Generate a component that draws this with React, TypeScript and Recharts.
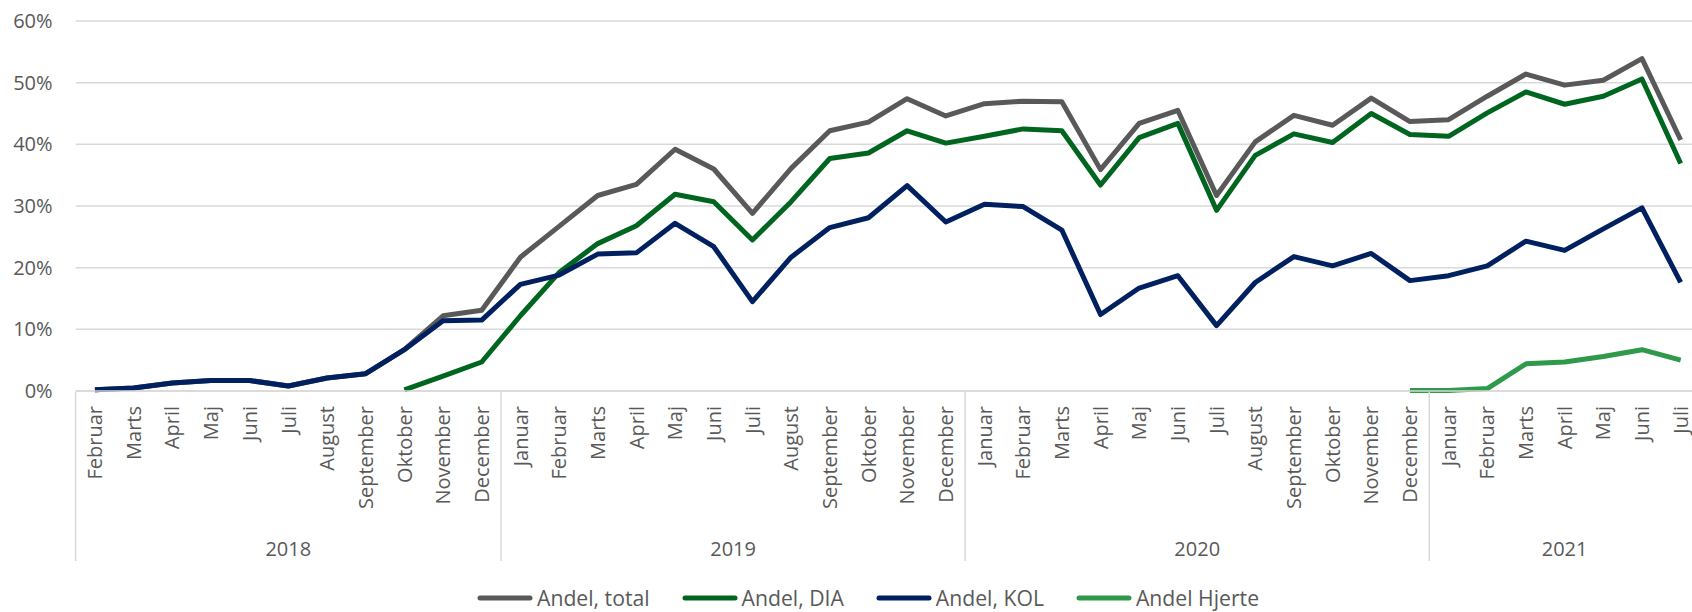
import React from 'react';
import { LineChart, Line, XAxis, YAxis, CartesianGrid, Legend } from 'recharts';

const monthLabels = [
  'Februar', 'Marts', 'April', 'Maj', 'Juni', 'Juli', 'August', 'September', 'Oktober', 'November', 'December',
  'Januar', 'Februar', 'Marts', 'April', 'Maj', 'Juni', 'Juli', 'August', 'September', 'Oktober', 'November', 'December',
  'Januar', 'Februar', 'Marts', 'April', 'Maj', 'Juni', 'Juli', 'August', 'September', 'Oktober', 'November', 'December',
  'Januar', 'Februar', 'Marts', 'April', 'Maj', 'Juni', 'Juli',
];

const yearLabels = ['2018', '2019', '2020', '2021'];
const yearMonthCounts = [11, 12, 12, 7];

const andelTotal = [
  0.2, 0.5, 1.3, 1.7, 1.7, 0.8, 2.1, 2.8, 6.7, 12.2, 13.1,
  21.7, 26.7, 31.7, 33.5, 39.2, 36.0, 28.8, 36.1, 42.2, 43.6, 47.4, 44.6,
  46.6, 47.0, 46.9, 35.9, 43.4, 45.5, 31.7, 40.4, 44.7, 43.1, 47.5, 43.7,
  44.0, 47.8, 51.4, 49.6, 50.4, 53.9, 40.7,
];

const andelDia: (number | null)[] = [
  null, null, null, null, null, null, null, null, 0.2, 2.4, 4.7,
  12.2, 19.2, 23.9, 26.8, 31.9, 30.7, 24.5, 30.7, 37.7, 38.6, 42.2, 40.2,
  41.3, 42.5, 42.2, 33.4, 41.1, 43.4, 29.3, 38.2, 41.7, 40.3, 45.0, 41.6,
  41.3, 45.1, 48.5, 46.5, 47.8, 50.6, 36.9,
];

const andelKol = [
  0.2, 0.5, 1.3, 1.7, 1.7, 0.8, 2.1, 2.8, 6.7, 11.4, 11.5,
  17.3, 18.8, 22.2, 22.4, 27.2, 23.4, 14.5, 21.7, 26.5, 28.1, 33.3, 27.4,
  30.3, 29.9, 26.1, 12.4, 16.7, 18.7, 10.6, 17.6, 21.8, 20.3, 22.3, 17.9,
  18.7, 20.3, 24.3, 22.8, 26.3, 29.7, 17.6,
];

const andelHjerte: (number | null)[] = [
  null, null, null, null, null, null, null, null, null, null, null,
  null, null, null, null, null, null, null, null, null, null, null, null,
  null, null, null, null, null, null, null, null, null, null, null, 0.1,
  0.1, 0.4, 4.4, 4.7, 5.6, 6.7, 5.0,
];

const yTicks = [0, 10, 20, 30, 40, 50, 60];

const seriesNames = ['Andel, total', 'Andel, DIA', 'Andel, KOL', 'Andel Hjerte'];
const seriesKeys = ['total', 'dia', 'kol', 'hjerte'];
const seriesColors = ['#595959', '#00661f', '#002060', '#2f9a4b'];

const data = monthLabels.map((m, i) => ({
  idx: i,
  month: m,
  total: andelTotal[i],
  dia: andelDia[i],
  kol: andelKol[i],
  hjerte: andelHjerte[i],
}));

const monthTicks = monthLabels.map((_, i) => i);

// year separators and centres, derived from month counts
const sepTicks: number[] = [];
const centerTicks: number[] = [];
const centerLabel = new Map<number, string>();
{
  let start = 0;
  yearMonthCounts.forEach((c, k) => {
    sepTicks.push(start - 0.5);
    const center = start + (c - 1) / 2;
    centerTicks.push(center);
    centerLabel.set(center, yearLabels[k]);
    start += c;
  });
}
const sepSet = new Set(sepTicks);
const yearAxisTicks = [...sepTicks, ...centerTicks].sort((a, b) => a - b);

const TEXT = '#595959';
const GRID = '#d9d9d9';

const MonthTick = (props: any) => {
  const { x, y, payload } = props;
  const label = monthLabels[payload.value];
  const ay = y + 15;
  return (
    <text
      x={x}
      y={ay}
      transform={`rotate(-90, ${x}, ${ay})`}
      textAnchor="end"
      dy="0.36em"
      fill={TEXT}
      fontSize={20}
    >
      {label}
    </text>
  );
};

const YearTick = (props: any) => {
  const { x, y, payload } = props;
  const v = payload.value;
  if (sepSet.has(v)) {
    return <line x1={x} x2={x} y1={y} y2={y + 169} stroke={GRID} strokeWidth={1.5} />;
  }
  return (
    <text x={x} y={y + 157} textAnchor="middle" dy="0.35em" fill={TEXT} fontSize={20}>
      {centerLabel.get(v)}
    </text>
  );
};

const LegendContent = () => (
  <div
    style={{
      height: 28,
      display: 'flex',
      alignItems: 'center',
      paddingLeft: 477,
      fontSize: 21.2,
      color: TEXT,
      whiteSpace: 'nowrap',
    }}
  >
    {seriesNames.map((n, i) => (
      <div key={n} style={{ display: 'flex', alignItems: 'center', marginRight: 32, height: 28 }}>
        <svg width={56} height={8} style={{ display: 'block' }}>
          <line x1={3} x2={53} y1={4} y2={4} stroke={seriesColors[i]} strokeWidth={5} strokeLinecap="round" />
        </svg>
        <span style={{ marginLeft: 4, lineHeight: '28px', display: 'block' }}>{n}</span>
      </div>
    ))}
  </div>
);

export default function App() {
  return (
    <div
      style={{
        position: 'fixed',
        left: 0,
        top: 0,
        width: 1692,
        height: 612,
        overflow: 'hidden',
        background: '#fff',
        fontFamily: "'Open Sans', sans-serif",
      }}
    >
      <LineChart width={1720} height={612} data={data} margin={{ top: 21, right: 20, left: 0, bottom: 191 }}>
        <CartesianGrid vertical={false} stroke={GRID} strokeWidth={1.5} />
        <XAxis
          xAxisId="m"
          dataKey="idx"
          type="number"
          domain={[-0.5, 41.5]}
          ticks={monthTicks}
          interval={0}
          tick={<MonthTick />}
          tickLine={false}
          tickSize={0}
          tickMargin={0}
          axisLine={{ stroke: GRID, strokeWidth: 1.5 }}
          height={1}
        />
        <XAxis
          xAxisId="yr"
          dataKey="idx"
          type="number"
          domain={[-0.5, 41.5]}
          ticks={yearAxisTicks}
          interval={0}
          tick={<YearTick />}
          tickLine={false}
          tickSize={0}
          tickMargin={0}
          axisLine={false}
          height={1}
        />
        <YAxis
          domain={[0, 60]}
          ticks={yTicks}
          width={75.6}
          tickFormatter={(v: number) => `${v}%`}
          tick={{ fill: TEXT, fontSize: 20 }}
          tickLine={false}
          tickSize={0}
          tickMargin={23}
          axisLine={false}
        />
        <Legend
          verticalAlign="bottom"
          content={<LegendContent />}
          wrapperStyle={{ top: 584, bottom: 'auto', left: 0, width: 1600 }}
        />
        {seriesKeys.map((k, i) => (
          <Line
            key={k}
            xAxisId="m"
            dataKey={k}
            name={seriesNames[i]}
            stroke={seriesColors[i]}
            strokeWidth={5}
            strokeLinejoin="round"
            dot={false}
            activeDot={false}
            isAnimationActive={false}
          />
        ))}
      </LineChart>
    </div>
  );
}
